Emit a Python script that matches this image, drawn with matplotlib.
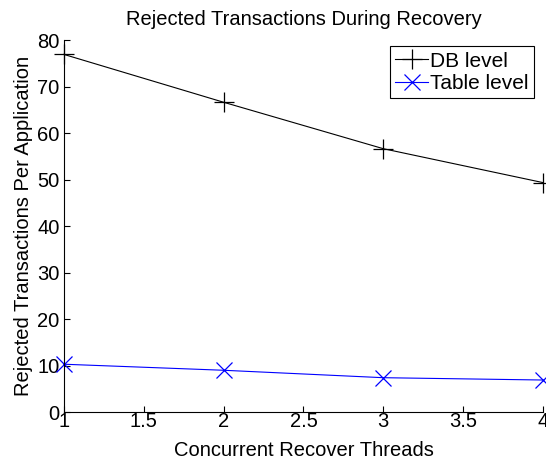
import matplotlib
matplotlib.use("Agg")
import matplotlib.pyplot as plt

plt.rcParams['font.family'] = ['Liberation Sans', 'DejaVu Sans']

threads = [1, 2, 3, 4]
db_level = [77.0, 66.7, 56.7, 49.4]
table_level = [10.3, 9.0, 7.4, 6.9]
x_ticks = [1, 1.5, 2, 2.5, 3, 3.5, 4]
x_tick_labels = ['1', '1.5', '2', '2.5', '3', '3.5', '4']
y_ticks = [0, 10, 20, 30, 40, 50, 60, 70, 80]

fig = plt.figure(figsize=(5.46, 4.63), dpi=100)
ax = fig.add_axes([0.117, 0.110, 0.8775, 0.8026])

ax.plot(threads, db_level, color='black', marker='+', markersize=14,
        markeredgewidth=0.9, linewidth=0.8, label='DB level', clip_on=False)
ax.plot(threads, table_level, color='blue', marker='x', markersize=11,
        markeredgewidth=0.9, linewidth=0.8, label='Table level', clip_on=False)

ax.set_xlim(1, 4)
ax.set_ylim(0, 80)
ax.set_xticks(x_ticks)
ax.set_xticklabels(x_tick_labels)
ax.set_yticks(y_ticks)
ax.tick_params(direction='in', length=4, width=0.8, labelsize=14.5)
ax.tick_params(axis='x', pad=0)
ax.tick_params(axis='y', pad=3)
for side in ('top', 'right'):
    ax.spines[side].set_visible(False)
for side in ('left', 'bottom'):
    ax.spines[side].set_linewidth(0.8)

ax.set_title('Rejected Transactions During Recovery', fontsize=14.5, pad=11)
ax.set_xlabel('Concurrent Recover Threads', fontsize=14.5, labelpad=7)
ax.set_ylabel('Rejected Transactions Per Application', fontsize=14.5, labelpad=3)

leg = ax.legend(loc='upper right', bbox_to_anchor=(0.99, 0.995), fontsize=15,
                fancybox=False, edgecolor='black', framealpha=1,
                handlelength=1.6, handletextpad=0.1, borderpad=0.25,
                labelspacing=0.15, borderaxespad=0.2)
leg.get_frame().set_linewidth(0.8)

fig.savefig('out.png', dpi=100)
